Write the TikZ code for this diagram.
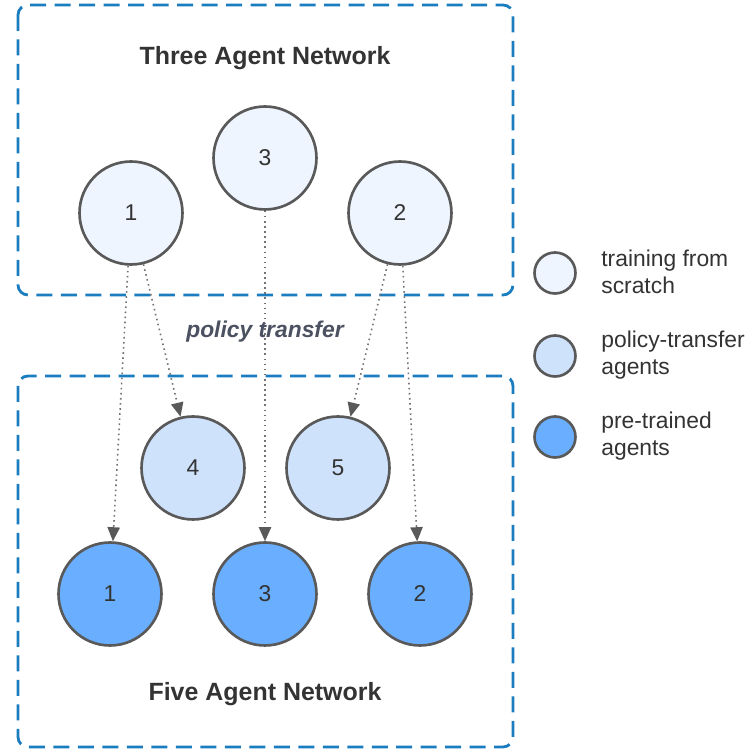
\documentclass[tikz,border=0pt]{standalone}
\usepackage{fontspec}
\setmainfont{Liberation Sans}
\usetikzlibrary{arrows.meta,positioning}

\definecolor{netblue}{HTML}{1A7DC0}
\definecolor{edgegray}{HTML}{595959}
\definecolor{scratchfill}{HTML}{EEF5FF}
\definecolor{transferfill}{HTML}{CFE2FC}
\definecolor{pretrainfill}{HTML}{6AAFFF}
\definecolor{textgray}{HTML}{333333}
\definecolor{labelgray}{HTML}{4B5160}

\begin{document}
\begin{tikzpicture}[
  x=0.02cm, y=-0.02cm,
  agent/.style={circle, draw=edgegray, line width=1.5pt, minimum size=2.06cm,
                inner sep=0pt, text=textgray, font=\fontsize{13}{15}\selectfont},
  scratch/.style={agent, fill=scratchfill},
  transferred/.style={agent, fill=transferfill},
  pretrained/.style={agent, fill=pretrainfill},
  legendmark/.style={circle, draw=edgegray, line width=1.5pt, minimum size=0.82cm, inner sep=0pt},
  legendtext/.style={align=left, anchor=west, text=textgray, inner sep=0pt,
                     font=\fontsize{13}{15.3}\selectfont},
  netbox/.style={draw=netblue, line width=1.6pt, rounded corners=0.2cm,
                 dash pattern=on 0.32cm off 0.17cm},
  title/.style={font=\fontsize{14.2}{17}\selectfont\bfseries, text=textgray},
  transfer/.style={draw=edgegray!85, line width=0.9pt, dotted,
                   -{Triangle[length=8pt, width=7pt, color=edgegray]}}
]
\useasboundingbox (0,0) rectangle (752,749);

% network frames
\draw[netbox] (18,5) rectangle (513,295);
\draw[netbox] (18,376) rectangle (513,747);

\node[title] (toptitle) at (265,58) {Three Agent Network};
\node[title] (bottitle) at (265,694) {Five Agent Network};

% three agent network
\node[scratch] (t1) at (131,213) {1};
\node[scratch] (t3) at (265,158) {3};
\node[scratch] (t2) at (400,213) {2};

% five agent network
\node[transferred] (f4) at (193,468) {4};
\node[transferred] (f5) at (338,468) {5};
\node[pretrained] (f1) at (110,594) {1};
\node[pretrained] (f3) at (265,594) {3};
\node[pretrained] (f2) at (420,594) {2};

% policy transfer
\draw[transfer] (t1) -- (f1);
\draw[transfer] (t1) -- (f4);
\draw[transfer] (t3) -- (f3);
\draw[transfer] (t2) -- (f5);
\draw[transfer] (t2) -- (f2);

\node[font=\fontsize{13}{15}\selectfont\bfseries\itshape, text=labelgray]
  (ptlabel) at (265,332) {policy transfer};

% legend
\node[legendmark, fill=scratchfill] (lg1) at (555,273) {};
\node[legendmark, fill=transferfill] (lg2) at (555,356) {};
\node[legendmark, fill=pretrainfill] (lg3) at (555,437) {};
\node[legendtext] (lt1) at (601,272) {training from\\scratch};
\node[legendtext] (lt2) at (601,355) {policy-transfer\\agents};
\node[legendtext] (lt3) at (601,436) {pre-trained\\agents};

\end{tikzpicture}
\end{document}
